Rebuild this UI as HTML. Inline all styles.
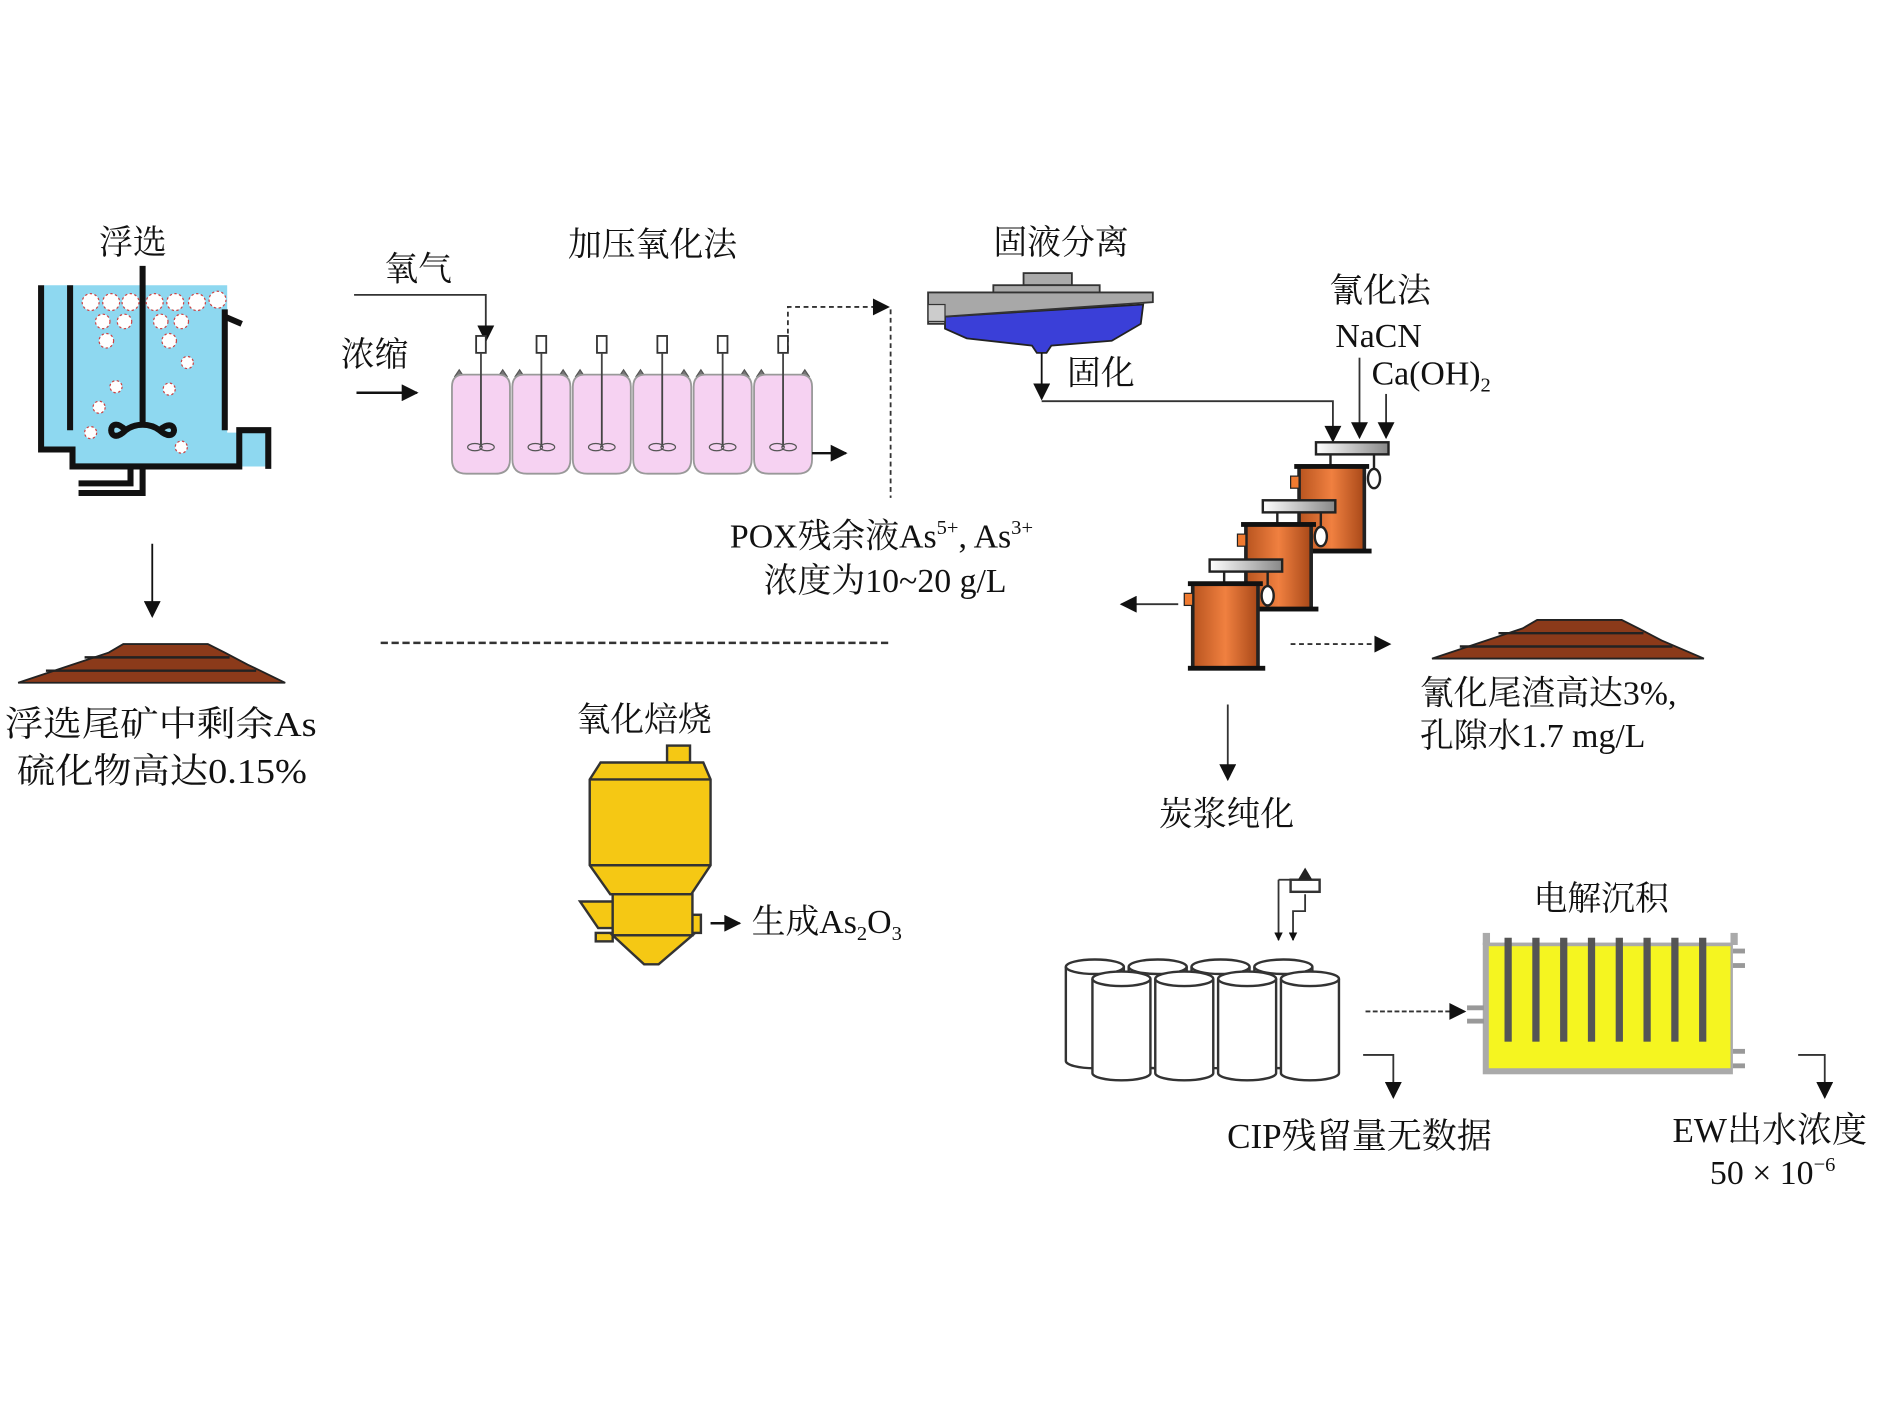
<!DOCTYPE html>
<html><head><meta charset="utf-8"><style>
html,body{margin:0;padding:0;background:#fff;}
svg{display:block;}
text{font-family:"Liberation Serif","Noto Serif CJK SC",serif;fill:#111;}
</style></head><body>
<svg width="1890" height="1417" viewBox="0 0 1564 1172.6" preserveAspectRatio="none" xmlns="http://www.w3.org/2000/svg">
<defs>
<marker id="ah" viewBox="0 0 10 10" refX="9" refY="5" markerWidth="7" markerHeight="7" orient="auto" markerUnits="userSpaceOnUse"><path d="M0,0 L10,5 L0,10 z" fill="#111"/></marker>
<marker id="ahb" viewBox="0 0 10 10" refX="9" refY="5" markerWidth="16" markerHeight="14" orient="auto" markerUnits="userSpaceOnUse"><path d="M0,0 L10,5 L0,10 z" fill="#111"/></marker>
<linearGradient id="og" x1="0" x2="1"><stop offset="0" stop-color="#b8541f"/><stop offset="0.5" stop-color="#f08040"/><stop offset="1" stop-color="#a84818"/></linearGradient>
<linearGradient id="gg" x1="0" x2="1"><stop offset="0" stop-color="#fff"/><stop offset="1" stop-color="#888"/></linearGradient>
<g id="tank">
<rect x="14" y="-20" width="60" height="10" fill="url(#gg)" stroke="#222" stroke-width="2"/>
<line x1="26" y1="-10" x2="26" y2="0" stroke="#222" stroke-width="2"/>
<rect x="0" y="0" width="54" height="70" fill="url(#og)" stroke="#222" stroke-width="3"/>
<rect x="-4" y="-2" width="62" height="4" fill="#111"/>
<rect x="-4" y="68" width="64" height="4" fill="#111"/>
<rect x="-7" y="8" width="7" height="10" fill="#f07a30" stroke="#222" stroke-width="1"/>
<line x1="62" y1="-10" x2="62" y2="2" stroke="#222" stroke-width="2"/>
<ellipse cx="62" cy="10" rx="5" ry="8" fill="#fff" stroke="#222" stroke-width="2"/>
</g>
<g id="reactor">
<rect x="-4" y="-22" width="8" height="14" fill="#fff" stroke="#333" stroke-width="1.5"/>
<path d="M-22,12 L-18,6 L-14,12 M14,12 L18,6 L22,12" fill="#777" stroke="#555"/>
<path d="M-24,20 Q-24,10 -14,10 L14,10 Q24,10 24,20 L24,80 Q24,92 12,92 L-12,92 Q-24,92 -24,80 Z" fill="#f6d2f2" stroke="#999" stroke-width="1.5"/>
<line x1="0" y1="-8" x2="0" y2="70" stroke="#444" stroke-width="1.5"/>
<ellipse cx="-5" cy="70" rx="6" ry="3" fill="none" stroke="#555"/>
<ellipse cx="5" cy="70" rx="6" ry="3" fill="none" stroke="#555"/>
</g>
<g id="cyl">
<path d="M0,8 L0,86 A24,6 0 0 0 48,86 L48,8" fill="#fff" stroke="#333" stroke-width="2"/>
<ellipse cx="24" cy="8" rx="24" ry="6" fill="#fff" stroke="#333" stroke-width="2"/>
</g>
</defs>

<!-- Flotation -->
<text x="110" y="210" font-size="28" text-anchor="middle">浮选</text>
<polygon points="36,236 188,236 188,358 222,358 222,386 198,386 198,386 60,386 60,372 36,372" fill="#8ed8f0"/>
<g stroke="#111" stroke-width="5" fill="none">
<path d="M34,236 L34,372 L60,372 L60,386 L198,386 L198,356 L222,356 L222,388"/>
<path d="M58,236 L58,356"/>
<path d="M186,256 L186,356"/>
<path d="M186,262 L200,268"/>
<path d="M118,386 L118,408 L65,408"/>
<path d="M108,386 L108,400 L65,400"/>
<path d="M118,220 L118,350"/>
<path d="M104,356 C88,340 88,372 104,356 C112,350 124,350 132,356 C148,370 148,342 132,356"/>
</g>
<g fill="#fff" stroke="#c44" stroke-width="1" stroke-dasharray="2,2">
<circle cx="75" cy="250" r="7"/><circle cx="92" cy="250" r="7"/><circle cx="108" cy="250" r="7"/><circle cx="128" cy="250" r="7"/><circle cx="145" cy="250" r="7"/><circle cx="163" cy="250" r="7"/><circle cx="180" cy="248" r="7"/>
<circle cx="85" cy="266" r="6"/><circle cx="103" cy="266" r="6"/><circle cx="133" cy="266" r="6"/><circle cx="150" cy="266" r="6"/>
<circle cx="88" cy="282" r="6"/><circle cx="140" cy="282" r="6"/><circle cx="155" cy="300" r="5"/><circle cx="96" cy="320" r="5"/><circle cx="140" cy="322" r="5"/><circle cx="82" cy="337" r="5"/><circle cx="75" cy="358" r="5"/><circle cx="150" cy="370" r="5"/>
</g>
<line x1="126" y1="450" x2="126" y2="510" stroke="#111" stroke-width="1.5" marker-end="url(#ahb)"/>
<polygon points="15,565 60,550 90,540 102,533 172,533 186,540 205,550 236,565" fill="#8b3a1a" stroke="#222" stroke-width="1.5"/>
<line x1="38" y1="555" x2="212" y2="555" stroke="#222" stroke-width="2"/><line x1="70" y1="544" x2="190" y2="544" stroke="#222" stroke-width="2"/>
<text x="4" y="609" font-size="29" textLength="258" lengthAdjust="spacingAndGlyphs">浮选尾矿中剩余As</text>
<text x="14" y="648" font-size="29" textLength="240" lengthAdjust="spacingAndGlyphs">硫化物高达0.15%</text>

<!-- POX -->
<text x="318" y="232" font-size="28">氧气</text>
<text x="282" y="303" font-size="28">浓缩</text>
<text x="540" y="212" font-size="28" text-anchor="middle">加压氧化法</text>
<path d="M293,244 L402,244 L402,282" fill="none" stroke="#333" stroke-width="1.5" marker-end="url(#ahb)"/>
<line x1="295" y1="325" x2="345" y2="325" stroke="#111" stroke-width="2" marker-end="url(#ahb)"/>
<use href="#reactor" x="398" y="300"/><use href="#reactor" x="448" y="300"/><use href="#reactor" x="498" y="300"/><use href="#reactor" x="548" y="300"/><use href="#reactor" x="598" y="300"/><use href="#reactor" x="648" y="300"/>
<line x1="672" y1="375" x2="700" y2="375" stroke="#111" stroke-width="2" marker-end="url(#ahb)"/>
<path d="M652,290 L652,254 L735,254" fill="none" stroke="#333" stroke-width="1.5" stroke-dasharray="4,3" marker-end="url(#ahb)"/>
<line x1="737" y1="256" x2="737" y2="412" stroke="#333" stroke-width="1.5" stroke-dasharray="4,3"/>
<text x="604" y="453" font-size="28">POX残余液As<tspan font-size="17" dy="-11">5+</tspan><tspan dy="11">, As</tspan><tspan font-size="17" dy="-11">3+</tspan></text>
<text x="632" y="490" font-size="28">浓度为10~20 g/L</text>
<line x1="315" y1="532" x2="738" y2="532" stroke="#333" stroke-width="2" stroke-dasharray="6,3"/>

<!-- thickener -->
<text x="878" y="210" font-size="28" text-anchor="middle">固液分离</text>
<rect x="847" y="226" width="40" height="10" fill="#aaa" stroke="#333" stroke-width="1.5"/>
<rect x="822" y="236" width="88" height="6" fill="#aaa" stroke="#333" stroke-width="1.5"/>
<polygon points="782,262 946,252 944,268 920,282 870,286 866,292 858,292 854,286 800,280 782,272" fill="#3a3fd8" stroke="#222" stroke-width="1.5"/>
<polygon points="768,242 954,242 954,250 782,262 782,268 768,268" fill="#a8a8a8" stroke="#333" stroke-width="1.5"/>
<rect x="768" y="252" width="14" height="14" fill="#ccc" stroke="#333"/>
<line x1="862" y1="292" x2="862" y2="330" stroke="#111" stroke-width="1.5" marker-end="url(#ahb)"/>
<text x="883" y="318" font-size="28">固化</text>
<path d="M862,332 L1103,332 L1103,365" fill="none" stroke="#333" stroke-width="1.5" marker-end="url(#ahb)"/>
<text x="1142" y="250" font-size="28" text-anchor="middle">氰化法</text>
<text x="1105" y="287" font-size="28">NaCN</text>
<text x="1135" y="318" font-size="28">Ca(OH)<tspan font-size="17" dy="6">2</tspan></text>
<line x1="1125" y1="296" x2="1125" y2="362" stroke="#333" stroke-width="1.5" marker-end="url(#ahb)"/>
<line x1="1147" y1="326" x2="1147" y2="362" stroke="#333" stroke-width="1.5" marker-end="url(#ahb)"/>
<use href="#tank" x="1075" y="386"/><use href="#tank" x="1031" y="434"/><use href="#tank" x="987" y="483"/>
<line x1="975" y1="500" x2="928" y2="500" stroke="#333" stroke-width="1.5" marker-end="url(#ahb)"/>
<line x1="1068" y1="533" x2="1150" y2="533" stroke="#333" stroke-width="1.5" stroke-dasharray="4,3" marker-end="url(#ahb)"/>
<polygon points="1185,545 1230,530 1260,520 1272,513 1342,513 1356,520 1375,530 1410,545" fill="#8b3a1a" stroke="#222" stroke-width="1.5"/>
<line x1="1208" y1="535" x2="1384" y2="535" stroke="#222" stroke-width="2"/><line x1="1240" y1="524" x2="1360" y2="524" stroke="#222" stroke-width="2"/>
<text x="1175" y="583" font-size="28">氰化尾渣高达3%,</text>
<text x="1175" y="618" font-size="28">孔隙水1.7 mg/L</text>
<line x1="1016" y1="583" x2="1016" y2="645" stroke="#333" stroke-width="1.5" marker-end="url(#ahb)"/>
<text x="1015" y="683" font-size="28" text-anchor="middle">炭浆纯化</text>

<!-- roaster -->
<text x="533" y="605" font-size="28" text-anchor="middle">氧化焙烧</text>
<g fill="#f5c814" stroke="#333" stroke-width="2">
<rect x="552" y="617" width="19" height="14"/>
<polygon points="497,631 582,631 588,645 588,716 572,740 505,740 488,716 488,645"/>
<line x1="488" y1="645" x2="588" y2="645"/><line x1="488" y1="716" x2="588" y2="716"/>
<polygon points="480,746 507,746 507,768 495,768"/>
<rect x="493" y="772" width="14" height="7"/>
<rect x="572" y="757" width="8" height="15"/>
<rect x="507" y="740" width="66" height="34"/>
<polygon points="507,774 573,774 545,798 533,798"/>
</g>
<line x1="588" y1="764" x2="612" y2="764" stroke="#111" stroke-width="2" marker-end="url(#ahb)"/>
<text x="622" y="772" font-size="28">生成As<tspan font-size="17" dy="6">2</tspan><tspan dy="-6">O</tspan><tspan font-size="17" dy="6">3</tspan></text>

<!-- CIP -->
<g fill="none" stroke="#333" stroke-width="1.5">
<path d="M1058,728 L1058,778" marker-end="url(#ah)"/>
<path d="M1058,728 L1068,728"/>
<path d="M1080,740 L1080,754 L1070,754 L1070,778" marker-end="url(#ah)"/>
</g>
<rect x="1068" y="728" width="24" height="10" fill="#fff" stroke="#333" stroke-width="2"/>
<polygon points="1074,728 1080,718 1086,728" fill="#222"/>
<use href="#cyl" x="882" y="792"/><use href="#cyl" x="934" y="792"/><use href="#cyl" x="986" y="792"/><use href="#cyl" x="1038" y="792"/>
<use href="#cyl" x="904" y="802"/><use href="#cyl" x="956" y="802"/><use href="#cyl" x="1008" y="802"/><use href="#cyl" x="1060" y="802"/>
<line x1="1130" y1="837" x2="1212" y2="837" stroke="#333" stroke-width="1.5" stroke-dasharray="4,2" marker-end="url(#ahb)"/>
<path d="M1128,873 L1153,873 L1153,908" fill="none" stroke="#333" stroke-width="1.5" marker-end="url(#ahb)"/>
<text x="1125" y="950" font-size="29" text-anchor="middle">CIP残留量无数据</text>

<!-- EW -->
<text x="1325" y="753" font-size="28" text-anchor="middle">电解沉积</text>
<rect x="1227" y="780" width="207" height="109" fill="#aaa"/>
<rect x="1232" y="783" width="200" height="101" fill="#f5f520"/>
<rect x="1227" y="772" width="6" height="10" fill="#aaa"/>
<rect x="1432" y="772" width="6" height="10" fill="#aaa"/>
<g fill="#555"><rect x="1245" y="776" width="6" height="86"/><rect x="1268" y="776" width="6" height="86"/><rect x="1291" y="776" width="6" height="86"/><rect x="1314" y="776" width="6" height="86"/><rect x="1337" y="776" width="6" height="86"/><rect x="1360" y="776" width="6" height="86"/><rect x="1383" y="776" width="6" height="86"/><rect x="1406" y="776" width="6" height="86"/></g>
<rect x="1214" y="832" width="14" height="4" fill="#999"/><rect x="1214" y="843" width="14" height="4" fill="#999"/>
<rect x="1434" y="785" width="10" height="4" fill="#999"/><rect x="1434" y="797" width="10" height="4" fill="#999"/>
<rect x="1434" y="868" width="10" height="4" fill="#999"/><rect x="1434" y="880" width="10" height="4" fill="#999"/>
<path d="M1488,873 L1510,873 L1510,908" fill="none" stroke="#333" stroke-width="1.5" marker-end="url(#ahb)"/>
<text x="1384" y="945" font-size="29">EW出水浓度</text>
<text x="1415" y="980" font-size="28">50 × 10<tspan font-size="17" dy="-11">−6</tspan></text>
</svg>
</body></html>
